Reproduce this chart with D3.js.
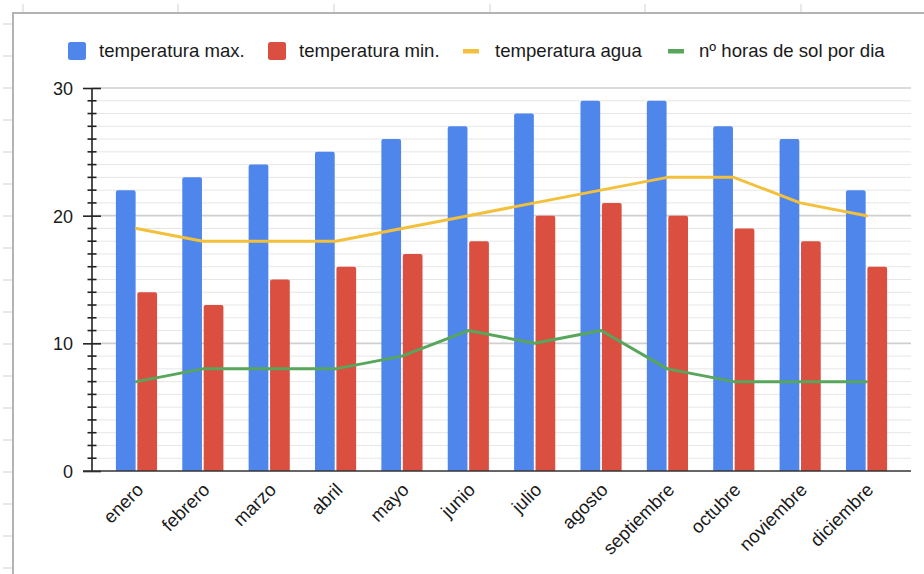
<!DOCTYPE html>
<html>
<head>
<meta charset="utf-8">
<script src="https://cdn.jsdelivr.net/npm/d3@7"></script>
<style>
  html, body { margin: 0; padding: 0; background: #fff; }
  svg { display: block; font-family: "Liberation Sans", Arial, sans-serif; }
</style>
</head>
<body>
<svg id="chart" width="924" height="574"></svg>
<script>
// ---- data ----
const months = ["enero", "febrero", "marzo", "abril", "mayo", "junio", "julio", "agosto", "septiembre", "octubre", "noviembre", "diciembre"];
const tempMax = [22, 23, 24, 25, 26, 27, 28, 29, 29, 27, 26, 22];
const tempMin = [14, 13, 15, 16, 17, 18, 20, 21, 20, 19, 18, 16];
const tempAgua = [19, 18, 18, 18, 19, 20, 21, 22, 23, 23, 21, 20];
const horasSol = [7, 8, 8, 8, 9, 11, 10, 11, 8, 7, 7, 7];
const seriesNames = ["temperatura max.", "temperatura min.", "temperatura agua", "nº horas de sol por dia"];
const yTicks = [0, 10, 20, 30];

// ---- styles ----
const colors = ["#4f86ec", "#da4f3f", "#f3c03c", "#58a55c"];

(function () {
const svg = d3.select("#chart");

// spreadsheet background: column/row lines + chart border
const colLines = [23, 178, 334, 490, 645, 801];
svg.append("g").selectAll("line").data(colLines).join("line")
  .attr("x1", d => d).attr("x2", d => d).attr("y1", 4).attr("y2", 13)
  .attr("stroke", "#e0e0e0").attr("stroke-width", 1.5);
const rowLines = d3.range(24, 574, 32);
svg.append("g").selectAll("line").data(rowLines).join("line")
  .attr("x1", 3).attr("x2", 13).attr("y1", d => d).attr("y2", d => d)
  .attr("stroke", "#e0e0e0").attr("stroke-width", 1.5);
svg.append("path").attr("d", "M13,574V13H924")
  .attr("fill", "none").attr("stroke", "#b3b3b3").attr("stroke-width", 2);

// ---- scales ----
const pLeft = 92, pRight = 911, pTop = 88, pBottom = 471;
const x = d3.scaleBand().domain(months).range([pLeft, pRight]).paddingInner(0.38).paddingOuter(0.36);
const x1 = d3.scaleBand().domain([0, 1]).range([0, x.bandwidth()]).paddingInner(0.08);
const y = d3.scaleLinear().domain([0, 30]).range([pBottom, pTop]);
const cx = m => x(m) + x.bandwidth() / 2;

// gridlines
const minor = d3.range(0, 31, 1);
svg.append("g").selectAll("line").data(minor.filter(v => v % 10 !== 0)).join("line")
  .attr("x1", pLeft).attr("x2", pRight).attr("y1", d => y(d)).attr("y2", d => y(d))
  .attr("stroke", "#e6e6e6").attr("stroke-width", 1);
svg.append("g").selectAll("line").data(yTicks.filter(v => v !== 0)).join("line")
  .attr("x1", pLeft).attr("x2", pRight).attr("y1", d => y(d)).attr("y2", d => y(d))
  .attr("stroke", "#cfcfcf").attr("stroke-width", 1.6);

// bars
function barPath(x0, y0, w, h, r) {
  r = Math.min(r, h / 2, w / 2);
  return `M${x0},${y0 + h}V${y0 + r}Q${x0},${y0} ${x0 + r},${y0}H${x0 + w - r}Q${x0 + w},${y0} ${x0 + w},${y0 + r}V${y0 + h}Z`;
}
[tempMax, tempMin].forEach((vals, si) => {
  svg.append("g").selectAll("path").data(months).join("path")
    .attr("d", (m, i) => barPath(x(m) + x1(si), y(vals[i]), x1.bandwidth(), y(0) - y(vals[i]), 2))
    .attr("fill", colors[si]);
});

// lines
[tempAgua, horasSol].forEach((vals, k) => {
  const line = d3.line().x((d, i) => cx(months[i])).y(d => y(d));
  svg.append("path").datum(vals).attr("d", line)
    .attr("fill", "none").attr("stroke", colors[k + 2]).attr("stroke-width", 3)
    .attr("stroke-linejoin", "round").attr("stroke-linecap", "round");
});

// y axis
const yAxisG = svg.append("g").attr("transform", `translate(${pLeft},0)`);
yAxisG.append("line").attr("x1", 0).attr("x2", 0).attr("y1", y(30)).attr("y2", y(0))
  .attr("stroke", "#222").attr("stroke-width", 1.6);
yAxisG.selectAll("line.minor").data(minor.filter(v => v % 10 !== 0)).join("line")
  .attr("class", "minor").attr("x1", -4.5).attr("x2", 4.5).attr("y1", d => y(d)).attr("y2", d => y(d))
  .attr("stroke", "#222").attr("stroke-width", 1.6);
const ax = d3.axisLeft(y).tickValues(yTicks).tickSize(9).tickPadding(10).tickFormat(d3.format("d"));
const axG = yAxisG.append("g").call(ax);
axG.select(".domain").remove();
axG.selectAll(".tick line").attr("x1", -9).attr("x2", 9).attr("stroke", "#222").attr("stroke-width", 1.6);
axG.selectAll(".tick text").attr("font-size", 18).attr("fill", "#1a1a1a")
  .attr("font-family", "Liberation Sans, Arial, sans-serif").attr("x", -19).attr("dy", "0.36em");

// x axis line
svg.append("line").attr("x1", pLeft - 9).attr("x2", pRight).attr("y1", y(0)).attr("y2", y(0))
  .attr("stroke", "#333").attr("stroke-width", 1.6);

// x labels
svg.append("g").selectAll("text").data(months).join("text")
  .attr("transform", m => `translate(${cx(m) + 8},${pBottom + 20}) rotate(-45)`)
  .attr("text-anchor", "end").attr("font-size", 18.5).attr("fill", "#1a1a1a")
  .text(m => m);

// legend
const legendX = [68, 268, 463, 668];
const legendTextX = [99, 299, 495, 699];
const lg = svg.append("g");
seriesNames.forEach((name, i) => {
  if (i < 2) {
    lg.append("rect").attr("x", legendX[i]).attr("y", 42).attr("width", 18).attr("height", 18)
      .attr("rx", 2.5).attr("fill", colors[i]);
  } else {
    lg.append("rect").attr("x", legendX[i]).attr("y", 49).attr("width", 16).attr("height", 4.5)
      .attr("fill", colors[i]);
  }
  lg.append("text").attr("x", legendTextX[i]).attr("y", 57).attr("font-size", 18.6)
    .attr("fill", "#1a1a1a").text(name);
});
})();
</script>
</body>
</html>
